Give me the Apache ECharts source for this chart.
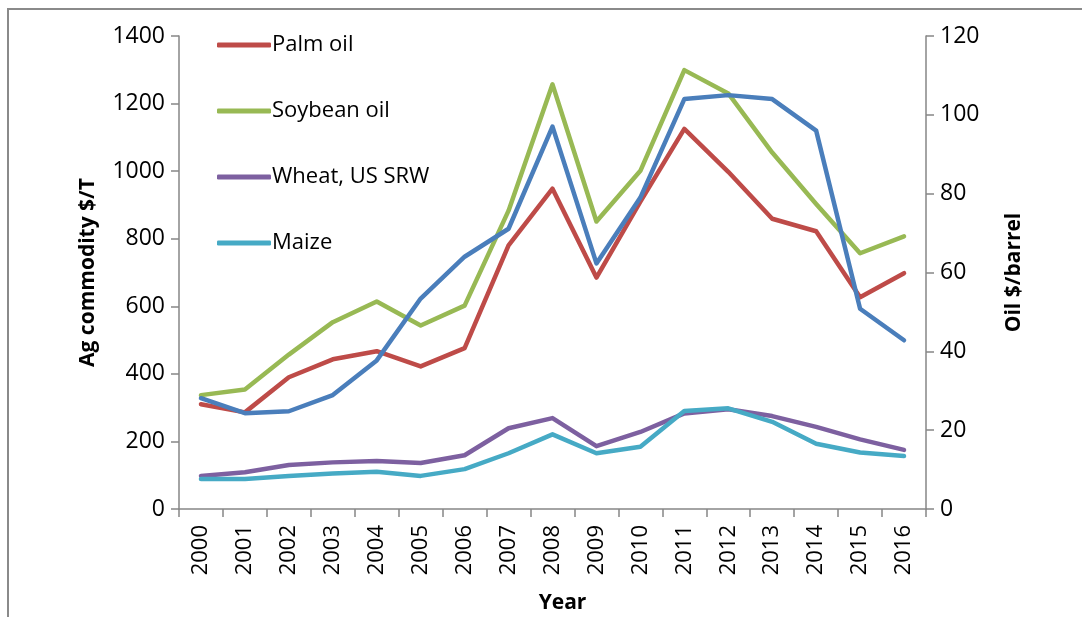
<!DOCTYPE html>
<html>
<head>
<meta charset="utf-8">
<script src="https://cdn.jsdelivr.net/npm/echarts@6/dist/echarts.min.js"></script>
<style>
  html, body { margin: 0; padding: 0; background: #fff; }
  #chart { width: 1082px; height: 617px; }
</style>
</head>
<body>
<div id="chart"></div>
<script>
// ── Data ────────────────────────────────────────────────────────────────────
var years = ['2000', '2001', '2002', '2003', '2004', '2005', '2006', '2007', '2008',
             '2009', '2010', '2011', '2012', '2013', '2014', '2015', '2016'];
var palmOil    = [310, 286, 390, 443, 467, 422, 476, 780, 948, 685, 910, 1125, 998, 859, 822, 627, 698];
var soybeanOil = [337, 354, 457, 553, 614, 543, 602, 883, 1257, 851, 1001, 1299, 1230, 1055, 903, 757, 807];
var wheat      = [98, 109, 130, 138, 142, 136, 159, 239, 269, 186, 228, 283, 295, 275, 243, 206, 175];
var maize      = [89, 89, 98, 105, 110, 98, 118, 165, 221, 165, 184, 290, 298, 258, 193, 167, 157];
var crudeOil   = [28.1, 24.3, 24.8, 28.9, 37.7, 53.4, 64.0, 71.1, 97.0, 62.3, 79.0, 104.0, 105.0, 104.0, 96.0, 50.8, 42.8];

// ── Style ───────────────────────────────────────────────────────────────────
var FONT = "'Open Sans', sans-serif";
var AXIS_GRAY = '#868686';
var C = {
  palm:  '#BE4B48',
  soy:   '#98B954',
  wheat: '#7D60A0',
  maize: '#46AAC5',
  oil:   '#4A7EBB'
};

function lineSeries(name, data, color, axisIdx) {
  return {
    name: name,
    type: 'line',
    yAxisIndex: axisIdx,
    data: data,
    symbol: 'none',
    lineStyle: { color: color, width: 4.5, cap: 'round', join: 'round' },
    itemStyle: { color: color },
    emphasis: { disabled: true }
  };
}

var yAxisCommon = {
  type: 'value',
  nameLocation: 'middle',
  nameRotate: 90,
  nameTextStyle: { fontFamily: FONT, fontSize: 21, fontWeight: 'bold', color: '#000' },
  axisLine: { show: true, lineStyle: { color: AXIS_GRAY, width: 1.5 } },
  axisTick: { show: true, length: 8, lineStyle: { color: AXIS_GRAY, width: 1.5 } },
  axisLabel: { fontFamily: FONT, fontSize: 23, color: '#000', margin: 14,
               formatter: function (v) { return String(v); } },
  splitLine: { show: false }
};

var chart = echarts.init(document.getElementById('chart'), null, { renderer: 'canvas' });
chart.setOption({
  backgroundColor: '#fff',
  animation: false,
  graphic: [{
    type: 'rect',
    shape: { x: 8, y: 9, width: 1200, height: 800 },
    style: { fill: 'none', stroke: '#8a8a8a', lineWidth: 2 },
    silent: true
  }],
  grid: { left: 179, right: 156, top: 36, bottom: 108, outerBoundsMode: 'none', containLabel: false },
  legend: {
    orient: 'vertical',
    left: 212,
    top: 29,
    itemGap: 44,
    itemWidth: 54,
    itemHeight: 5,
    icon: 'roundRect',
    data: ['Palm oil', 'Soybean oil', 'Wheat, US SRW', 'Maize'],
    textStyle: { fontFamily: FONT, fontSize: 22, color: '#000', padding: [0, 0, 0, -4] }
  },
  xAxis: {
    type: 'category',
    data: years,
    boundaryGap: true,
    name: 'Year',
    nameLocation: 'middle',
    nameGap: 84,
    nameTextStyle: { fontFamily: FONT, fontSize: 21, fontWeight: 'bold', color: '#000', padding: [0, 0, 0, 20] },
    axisLine: { show: true, lineStyle: { color: AXIS_GRAY, width: 1.5 } },
    axisTick: { show: true, length: 8, alignWithLabel: false, lineStyle: { color: AXIS_GRAY, width: 1.5 } },
    axisLabel: { fontFamily: FONT, fontSize: 22, color: '#000', rotate: 90, margin: 16, interval: 0 }
  },
  yAxis: [
    Object.assign({}, yAxisCommon, {
      name: 'Ag commodity $/T',
      nameGap: 80,
      position: 'left',
      min: 0, max: 1400, interval: 200
    }),
    Object.assign({}, yAxisCommon, {
      name: 'Oil $/barrel',
      nameGap: 78,
      position: 'right',
      min: 0, max: 120, interval: 20
    })
  ],
  series: [
    lineSeries('Palm oil', palmOil, C.palm, 0),
    lineSeries('Soybean oil', soybeanOil, C.soy, 0),
    lineSeries('Wheat, US SRW', wheat, C.wheat, 0),
    lineSeries('Maize', maize, C.maize, 0),
    lineSeries('Oil', crudeOil, C.oil, 1)
  ]
});
</script>
</body>
</html>
